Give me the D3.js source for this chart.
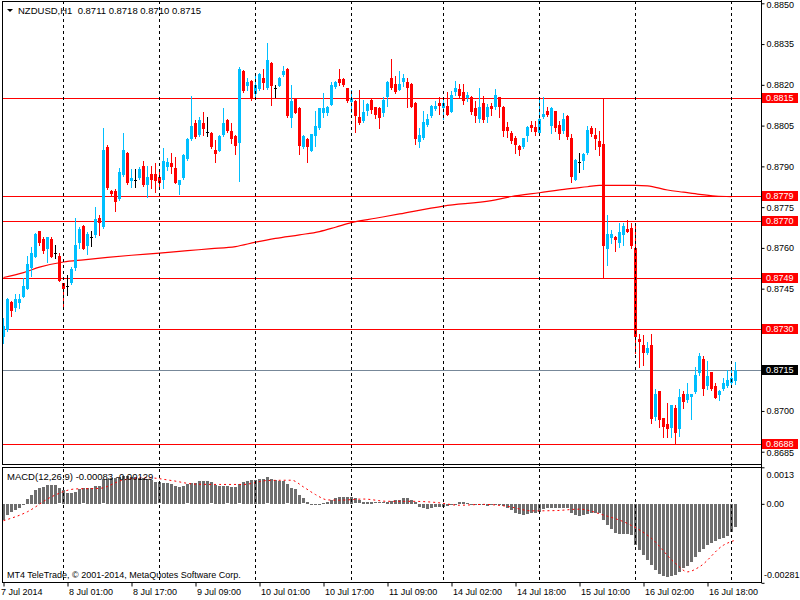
<!DOCTYPE html>
<html>
<head>
<meta charset="utf-8">
<script src="https://cdn.jsdelivr.net/npm/d3@7"></script>
<style>
  body { margin: 0; background: #fff; }
  svg { display: block; font-family: "Liberation Sans", Arial, sans-serif; }
</style>
</head>
<body>
<svg id="chart" width="800" height="600"></svg>
<script>
// NZDUSD H1, 7 Jul 2014 09:00 .. 17 Jul 2014 01:00 (184 bars)
const open = [
  0.87271,0.87298,0.87401,0.87380,0.87399,0.87421,0.87450,0.87527,0.87568,0.87662,
  0.87632,0.87596,0.87633,0.87580,0.87570,0.87470,0.87460,0.87470,0.87526,0.87619,
  0.87681,0.87608,0.87639,0.87648,0.87709,0.87678,0.87972,0.87809,0.87809,0.87779,
  0.87870,0.87948,0.87847,0.87850,0.87858,0.87901,0.87830,0.87872,0.87872,0.87862,
  0.87850,0.87899,0.87913,0.87893,0.87830,0.87858,0.87927,0.87999,0.88058,0.88015,
  0.88061,0.88027,0.88021,0.87960,0.87958,0.88015,0.88070,0.88031,0.88012,0.87987,
  0.88251,0.88196,0.88215,0.88166,0.88183,0.88227,0.88187,0.88281,0.88189,0.88197,
  0.88237,0.88258,0.88079,0.88150,0.88113,0.87970,0.88001,0.87958,0.88012,0.88040,
  0.88097,0.88097,0.88126,0.88193,0.88221,0.88221,0.88187,0.88138,0.88140,0.88083,
  0.88068,0.88105,0.88144,0.88117,0.88113,0.88098,0.88154,0.88224,0.88203,0.88182,
  0.88209,0.88211,0.88203,0.88133,0.87990,0.88003,0.88052,0.88084,0.88111,0.88133,
  0.88113,0.88121,0.88101,0.88172,0.88184,0.88172,0.88150,0.88156,0.88113,0.88074,
  0.88132,0.88083,0.88123,0.88119,0.88154,0.88119,0.88046,0.88021,0.88004,0.87976,
  0.87972,0.88013,0.88053,0.88046,0.88021,0.88080,0.88105,0.88049,0.88102,0.88053,
  0.88031,0.88086,0.88004,0.87851,0.87917,0.87921,0.87949,0.88041,0.88016,0.87994,
  0.87982,0.87596,0.87638,0.87641,0.87617,0.87648,0.87668,0.87672,0.87599,0.87264,
  0.87243,0.87212,0.87243,0.86977,0.87074,0.86973,0.86951,0.86936,0.87010,0.86933,
  0.87063,0.87041,0.87050,0.87071,0.87139,0.87190,0.87090,0.87145,0.87092,0.87059,
  0.87080,0.87090,0.87102,0.87110
];
const high = [
  0.87341,0.87415,0.87405,0.87430,0.87430,0.87488,0.87570,0.87605,0.87656,0.87662,
  0.87641,0.87641,0.87639,0.87610,0.87580,0.87470,0.87500,0.87529,0.87709,0.87678,
  0.87685,0.87660,0.87662,0.87752,0.87721,0.88042,0.87978,0.87812,0.87815,0.87893,
  0.88021,0.87952,0.87890,0.87890,0.87899,0.87919,0.87901,0.87902,0.87911,0.87880,
  0.87969,0.87929,0.87948,0.87935,0.87850,0.87945,0.88003,0.88159,0.88070,0.88083,
  0.88101,0.88083,0.88027,0.87997,0.88015,0.88113,0.88075,0.88058,0.88015,0.88267,
  0.88255,0.88227,0.88218,0.88240,0.88245,0.88258,0.88353,0.88285,0.88199,0.88230,
  0.88269,0.88262,0.88199,0.88153,0.88117,0.88015,0.88004,0.88020,0.88103,0.88115,
  0.88169,0.88122,0.88211,0.88215,0.88257,0.88225,0.88190,0.88181,0.88144,0.88181,
  0.88144,0.88132,0.88148,0.88120,0.88117,0.88154,0.88213,0.88295,0.88231,0.88252,
  0.88240,0.88227,0.88205,0.88136,0.88043,0.88105,0.88092,0.88125,0.88141,0.88154,
  0.88148,0.88172,0.88178,0.88215,0.88203,0.88203,0.88172,0.88160,0.88141,0.88190,
  0.88160,0.88129,0.88135,0.88184,0.88157,0.88122,0.88062,0.88031,0.88013,0.87979,
  0.88006,0.88049,0.88068,0.88068,0.88154,0.88154,0.88117,0.88117,0.88105,0.88068,
  0.88098,0.88088,0.88019,0.87926,0.87951,0.87951,0.88049,0.88049,0.88043,0.88031,
  0.88150,0.87721,0.87666,0.87645,0.87693,0.87693,0.87703,0.87690,0.87688,0.87282,
  0.87280,0.87252,0.87282,0.87081,0.87074,0.86973,0.87031,0.87022,0.87022,0.87081,
  0.87075,0.87104,0.87063,0.87163,0.87215,0.87203,0.87185,0.87145,0.87102,0.87078,
  0.87120,0.87151,0.87151,0.87180
];
const low = [
  0.87251,0.87295,0.87351,0.87369,0.87380,0.87421,0.87450,0.87497,0.87568,0.87610,
  0.87580,0.87549,0.87568,0.87562,0.87480,0.87378,0.87427,0.87467,0.87519,0.87599,
  0.87595,0.87579,0.87608,0.87639,0.87648,0.87672,0.87815,0.87795,0.87737,0.87776,
  0.87865,0.87836,0.87825,0.87825,0.87855,0.87828,0.87789,0.87819,0.87807,0.87819,
  0.87819,0.87886,0.87874,0.87840,0.87798,0.87855,0.87925,0.87997,0.88003,0.88012,
  0.88015,0.88012,0.87968,0.87917,0.87955,0.88012,0.88027,0.87985,0.87945,0.87846,
  0.88175,0.88181,0.88145,0.88156,0.88180,0.88183,0.88185,0.88126,0.88156,0.88195,
  0.88234,0.88083,0.88046,0.88095,0.87945,0.87968,0.87917,0.87955,0.87976,0.88038,
  0.88083,0.88089,0.88124,0.88190,0.88199,0.88196,0.88138,0.88101,0.88027,0.88055,
  0.88065,0.88089,0.88095,0.88077,0.88040,0.88086,0.88121,0.88185,0.88170,0.88180,
  0.88197,0.88119,0.88117,0.87982,0.87973,0.88000,0.88050,0.88082,0.88108,0.88092,
  0.88074,0.88088,0.88099,0.88162,0.88157,0.88129,0.88141,0.88092,0.88062,0.88062,
  0.88062,0.88065,0.88090,0.88111,0.88083,0.88013,0.88009,0.87985,0.87949,0.87943,
  0.87968,0.87994,0.88031,0.88015,0.88019,0.88077,0.88086,0.88021,0.88031,0.88000,
  0.88021,0.88000,0.87843,0.87848,0.87881,0.87890,0.87945,0.88013,0.87964,0.87943,
  0.87490,0.87537,0.87619,0.87590,0.87605,0.87611,0.87657,0.87599,0.87212,0.87163,
  0.87169,0.87209,0.86957,0.86967,0.86940,0.86903,0.86903,0.86903,0.86881,0.86906,
  0.87010,0.87034,0.86971,0.87065,0.87133,0.87059,0.87080,0.87077,0.87047,0.87041,
  0.87077,0.87088,0.87096,0.87100
];
const close = [
  0.87313,0.87412,0.87369,0.87412,0.87413,0.87460,0.87541,0.87581,0.87651,0.87619,
  0.87590,0.87639,0.87568,0.87580,0.87480,0.87450,0.87460,0.87521,0.87611,0.87670,
  0.87597,0.87651,0.87639,0.87705,0.87691,0.87960,0.87819,0.87798,0.87770,0.87878,
  0.87960,0.87840,0.87858,0.87850,0.87890,0.87830,0.87862,0.87850,0.87847,0.87840,
  0.87919,0.87917,0.87899,0.87840,0.87850,0.87942,0.87999,0.88048,0.88009,0.88070,
  0.88039,0.88027,0.87970,0.87945,0.88012,0.88058,0.88031,0.87999,0.87976,0.88258,
  0.88178,0.88211,0.88148,0.88199,0.88240,0.88205,0.88291,0.88197,0.88189,0.88227,
  0.88252,0.88086,0.88142,0.88097,0.87976,0.88012,0.87970,0.88018,0.88048,0.88113,
  0.88113,0.88119,0.88199,0.88211,0.88208,0.88199,0.88142,0.88153,0.88085,0.88058,
  0.88101,0.88129,0.88107,0.88089,0.88077,0.88145,0.88211,0.88190,0.88172,0.88203,
  0.88225,0.88190,0.88119,0.88000,0.88015,0.88064,0.88074,0.88123,0.88123,0.88121,
  0.88133,0.88090,0.88162,0.88190,0.88160,0.88141,0.88162,0.88101,0.88084,0.88119,
  0.88070,0.88117,0.88111,0.88163,0.88119,0.88031,0.88031,0.87992,0.87979,0.87961,
  0.88004,0.88046,0.88041,0.88027,0.88074,0.88092,0.88090,0.88114,0.88043,0.88019,
  0.88074,0.88009,0.87862,0.87923,0.87917,0.87945,0.88033,0.88019,0.88000,0.87972,
  0.87607,0.87651,0.87651,0.87629,0.87660,0.87681,0.87660,0.87607,0.87271,0.87252,
  0.87212,0.87233,0.86971,0.87063,0.86967,0.86940,0.86933,0.87022,0.86918,0.87050,
  0.87032,0.87063,0.87063,0.87133,0.87203,0.87080,0.87129,0.87080,0.87047,0.87075,
  0.87102,0.87114,0.87120,0.87150
];

// moving average (read at some bars)
const maBar = [0,5,9,15,20,26,32,39,46,52,58,63,68,74,79,83,87,93,99,110,122,127,134,141,146,149,158,161,166,170,174,178,182];
const maValue = [0.87491,0.87509,0.87529,0.87548,0.87556,0.87565,0.87573,0.87581,0.87590,0.87597,0.87605,0.87621,0.87635,0.87648,0.87660,0.87676,0.87693,0.87709,0.87725,0.87754,0.87774,0.87789,0.87803,0.87817,0.87825,0.87830,0.87830,0.87828,0.87813,0.87805,0.87797,0.87791,0.87789];

// MACD(12,26,9) main, one per bar
const macd = [
  -0.00056,-0.00040,-0.00028,-0.00023,-0.00014,-0.00005,0.00017,0.00031,0.00049,0.00057,
  0.00059,0.00066,0.00066,0.00066,0.00055,0.00051,0.00038,0.00038,0.00043,0.00052,
  0.00055,0.00056,0.00057,0.00063,0.00063,0.00087,0.00090,0.00093,0.00093,0.00097,
  0.00100,0.00100,0.00097,0.00096,0.00093,0.00093,0.00090,0.00084,0.00078,0.00076,
  0.00074,0.00074,0.00071,0.00064,0.00060,0.00064,0.00069,0.00074,0.00074,0.00081,
  0.00081,0.00081,0.00076,0.00066,0.00064,0.00064,0.00062,0.00059,0.00059,0.00069,
  0.00078,0.00083,0.00085,0.00085,0.00088,0.00090,0.00094,0.00088,0.00085,0.00083,
  0.00081,0.00069,0.00057,0.00052,0.00033,0.00019,0.00007,-0.00002,-0.00002,0.00000,
  0.00002,0.00007,0.00014,0.00021,0.00024,0.00026,0.00026,0.00024,0.00019,0.00012,
  0.00007,0.00006,0.00006,0.00005,0.00005,0.00005,0.00007,0.00009,0.00014,0.00014,
  0.00020,0.00020,0.00014,0.00007,-0.00011,-0.00014,-0.00017,-0.00014,-0.00012,-0.00009,
  -0.00011,-0.00007,-0.00005,-0.00002,0.00006,0.00007,0.00004,-0.00001,-0.00002,-0.00002,
  -0.00005,-0.00007,-0.00005,-0.00005,-0.00002,-0.00007,-0.00014,-0.00020,-0.00031,-0.00036,
  -0.00038,-0.00034,-0.00031,-0.00031,-0.00028,-0.00019,-0.00014,-0.00013,-0.00014,-0.00014,
  -0.00014,-0.00014,-0.00031,-0.00040,-0.00043,-0.00040,-0.00034,-0.00031,-0.00031,-0.00031,
  -0.00058,-0.00076,-0.00090,-0.00102,-0.00107,-0.00107,-0.00107,-0.00109,-0.00145,-0.00165,
  -0.00183,-0.00200,-0.00218,-0.00236,-0.00248,-0.00256,-0.00259,-0.00256,-0.00254,-0.00242,
  -0.00228,-0.00221,-0.00206,-0.00190,-0.00171,-0.00159,-0.00147,-0.00138,-0.00133,-0.00123,
  -0.00121,-0.00114,-0.00100,-0.00083
];
// signal line (read at some bars)
const signalBar = [0,6,12,18,24,30,36,42,48,54,60,66,72,75,78,81,84,90,96,102,108,114,120,126,132,138,144,150,156,162,168,171,174,180,183];
const signalValue = [-0.00060,-0.00028,0.00025,0.00053,0.00055,0.00085,0.00093,0.00083,0.00070,0.00069,0.00069,0.00083,0.00084,0.00060,0.00033,0.00014,0.00013,0.00017,0.00009,0.00009,0.00005,-0.00005,-0.00002,-0.00009,-0.00025,-0.00024,-0.00019,-0.00040,-0.00070,-0.00123,-0.00212,-0.00242,-0.00224,-0.00147,-0.00129];

// horizontal levels and current price
const levels = [0.8815, 0.8779, 0.8770, 0.8749, 0.8730, 0.8688];
const lastPrice = 0.8715;

// axis ticks
const priceTicks = [0.8850, 0.8835, 0.8820, 0.8805, 0.8790, 0.8775, 0.8760, 0.8745, 0.8730, 0.8715, 0.8700, 0.8685];
const timeTickBar = [0, 16, 32, 48, 64, 80, 96, 112, 128, 144, 160, 176];
const timeLabels = ["7 Jul 2014", "8 Jul 01:00", "8 Jul 17:00", "9 Jul 09:00", "10 Jul 01:00", "10 Jul 17:00",
  "11 Jul 09:00", "14 Jul 02:00", "14 Jul 18:00", "15 Jul 10:00", "16 Jul 02:00", "16 Jul 18:00"];
const dayStartBar = [15, 39, 63, 87, 110, 134, 158, 182];
const macdTicks = [0.0013, 0, -0.00281];
const macdTickLabels = ["0.0013", "0.00", "-0.00281"];

const FONT = "9px", HEAD_FONT = "9.5px";
const BULL = "#00bfff", BEAR = "#ff0000";

const svg = d3.select("#chart");
const paneLeft = 2, paneRight = 761;
const mainTop = 1, mainBottom = 464;
const macdTop = 467, macdBottom = 582;

// scales
const x = d3.scaleLinear().domain([0, 183]).range([3.5, 735.5]);
const y = d3.scaleLinear().domain([0.868048, 0.885085]).range([mainBottom, mainTop]);
const ym = d3.scaleLinear().domain([-0.00281, 0.0013]).range([macdBottom + 0.8, macdTop + 0.3]);

const bars = d3.range(open.length).map(i => ({
  i: i, o: open[i], h: high[i], l: low[i], c: close[i]
}));

svg.append("defs").append("clipPath").attr("id", "mainClip")
  .append("rect").attr("x", paneLeft).attr("y", mainTop).attr("width", paneRight - paneLeft).attr("height", mainBottom - mainTop);
svg.select("defs").append("clipPath").attr("id", "macdClip")
  .append("rect").attr("x", paneLeft).attr("y", macdTop).attr("width", paneRight - paneLeft).attr("height", macdBottom - macdTop);

const main = svg.append("g").attr("clip-path", "url(#mainClip)");
const sub = svg.append("g").attr("clip-path", "url(#macdClip)");

// day separators
svg.append("g")
  .selectAll("line")
  .data(dayStartBar)
  .join("line")
  .attr("x1", d => Math.floor(x(d)) + 0.5)
  .attr("x2", d => Math.floor(x(d)) + 0.5)
  .attr("y1", mainTop)
  .attr("y2", macdBottom)
  .attr("stroke", "#000")
  .attr("stroke-dasharray", "3,3")
  .attr("shape-rendering", "crispEdges");

// level lines
main.append("g")
  .selectAll("line")
  .data(levels)
  .join("line")
  .attr("x1", paneLeft)
  .attr("x2", paneRight)
  .attr("y1", d => Math.round(y(d)) + 0.5)
  .attr("y2", d => Math.round(y(d)) + 0.5)
  .attr("stroke", "#ff0000")
  .attr("shape-rendering", "crispEdges");

main.append("line")
  .attr("x1", paneLeft).attr("x2", paneRight)
  .attr("y1", Math.round(y(lastPrice)) + 0.5).attr("y2", Math.round(y(lastPrice)) + 0.5)
  .attr("stroke", "#778899")
  .attr("shape-rendering", "crispEdges");

// moving average
main.append("path")
  .datum(maBar.map((b, k) => [b, maValue[k]]))
  .attr("fill", "none")
  .attr("stroke", "#ff0000")
  .attr("stroke-width", 1.2)
  .attr("d", d3.line().x(d => x(d[0])).y(d => y(d[1])).curve(d3.curveMonotoneX));

// candles
const colorOf = d => Math.abs(d.c - d.o) < 0.00002 ? "#000" : (d.c > d.o ? BULL : BEAR);
const candle = main.append("g").selectAll("g").data(bars).join("g");

candle.append("line")
  .attr("x1", d => x(d.i)).attr("x2", d => x(d.i))
  .attr("y1", d => Math.round(y(d.h)))
  .attr("y2", d => Math.round(y(d.l)) + 1)
  .attr("stroke", colorOf)
  .attr("shape-rendering", "crispEdges");

candle.append("rect")
  .attr("x", d => x(d.i) - 1.5)
  .attr("width", 3)
  .attr("y", d => Math.round(y(Math.max(d.o, d.c))))
  .attr("height", d => Math.max(1, Math.round(y(Math.min(d.o, d.c))) - Math.round(y(Math.max(d.o, d.c)))))
  .attr("fill", colorOf)
  .attr("shape-rendering", "crispEdges");

// MACD histogram
sub.append("g")
  .selectAll("rect")
  .data(macd)
  .join("rect")
  .attr("x", (d, i) => x(i) - 1.5)
  .attr("width", 3)
  .attr("y", d => Math.round(Math.min(ym(d), ym(0))))
  .attr("height", d => Math.max(1, Math.round(Math.abs(ym(d) - ym(0)))))
  .attr("fill", "#6e6e6e")
  .attr("shape-rendering", "crispEdges");

// signal line
sub.append("path")
  .datum(signalBar.map((b, k) => [b, signalValue[k]]))
  .attr("fill", "none")
  .attr("stroke", "#ff0000")
  .attr("stroke-width", 1)
  .attr("stroke-dasharray", "2,3")
  .attr("d", d3.line().x(d => x(d[0])).y(d => ym(d[1])).curve(d3.curveMonotoneX));

// pane frames
[[mainTop, mainBottom], [macdTop, macdBottom]].forEach(p => {
  svg.append("rect")
    .attr("x", paneLeft + 0.5).attr("y", p[0] + 0.5)
    .attr("width", paneRight - paneLeft).attr("height", p[1] - p[0])
    .attr("fill", "none").attr("stroke", "#000")
    .attr("shape-rendering", "crispEdges");
});

// price axis
const yAxis = svg.append("g")
  .attr("transform", `translate(${paneRight + 0.5},0)`)
  .call(d3.axisRight(y).tickValues(priceTicks).tickFormat(d3.format(".4f")).tickSize(3).tickSizeOuter(0).tickPadding(2));
yAxis.select(".domain").remove();
yAxis.selectAll("text")
  .attr("font-size", FONT).attr("font-family", "Liberation Sans, Arial").attr("fill", "#000")
  .attr("y", (d, i) => (i === 0 ? 1.5 : i === priceTicks.length - 1 ? 1 : 0));

// level labels
const tag = svg.append("g");
const tags = levels.map(v => ({ v: v, bg: "#ff0000" })).concat([{ v: lastPrice, bg: "#000" }]);
tag.selectAll("rect")
  .data(tags)
  .join("rect")
  .attr("x", paneRight + 1)
  .attr("y", d => Math.round(y(d.v)) - 5)
  .attr("width", 800 - paneRight - 3)
  .attr("height", 10)
  .attr("fill", d => d.bg);
tag.selectAll("text")
  .data(tags)
  .join("text")
  .attr("x", paneRight + 5)
  .attr("y", d => Math.round(y(d.v)))
  .attr("dy", "0.35em")
  .attr("fill", "#fff")
  .attr("font-size", FONT)
  .text(d => d.v.toFixed(4));

// MACD axis
const mAxis = svg.append("g")
  .attr("transform", `translate(${paneRight + 0.5},0)`)
  .call(d3.axisRight(ym).tickValues(macdTicks).tickFormat((d, i) => macdTickLabels[i]).tickSize(3).tickSizeOuter(0).tickPadding(2));
mAxis.select(".domain").remove();
mAxis.selectAll("text")
  .attr("font-size", FONT).attr("font-family", "Liberation Sans, Arial").attr("fill", "#000")
  .attr("x", (d, i) => (i === 2 ? 2.5 : 5))
  .attr("y", (d, i) => (i === 0 ? 7 : i === 2 ? -8 : 0));

// right axis line
svg.append("line")
  .attr("x1", paneRight + 0.5).attr("x2", paneRight + 0.5)
  .attr("y1", 0).attr("y2", macdBottom + 1)
  .attr("stroke", "#000").attr("shape-rendering", "crispEdges");

// time axis
const xAxis = svg.append("g")
  .attr("transform", `translate(0,${macdBottom + 0.5})`)
  .call(d3.axisBottom(x).tickValues(timeTickBar).tickFormat((d, i) => timeLabels[i]).tickSize(4).tickSizeOuter(0).tickPadding(2));
xAxis.select(".domain").remove();
xAxis.selectAll("text")
  .attr("text-anchor", "start")
  .attr("x", (d, i) => (i === 0 ? -3 : 1))
  .attr("font-size", FONT).attr("font-family", "Liberation Sans, Arial").attr("fill", "#000");

// header texts
svg.append("path").attr("d", "M7,9L13,9L10,12Z").attr("fill", "#000");
svg.append("text").attr("x", 18).attr("y", 14).attr("font-size", HEAD_FONT).attr("fill", "#000")
  .style("white-space", "pre")
  .text("NZDUSD,H1  0.8711 0.8718 0.8710 0.8715");
svg.append("text").attr("x", 7).attr("y", 480).attr("font-size", HEAD_FONT).attr("fill", "#000")
  .text("MACD(12,26,9) -0.00083 -0.00129");
svg.append("text").attr("x", 7).attr("y", 578).attr("font-size", FONT).attr("fill", "#000")
  .text("MT4 TeleTrade, \u00a9 2001-2014, MetaQuotes Software Corp.");
</script>
</body>
</html>
